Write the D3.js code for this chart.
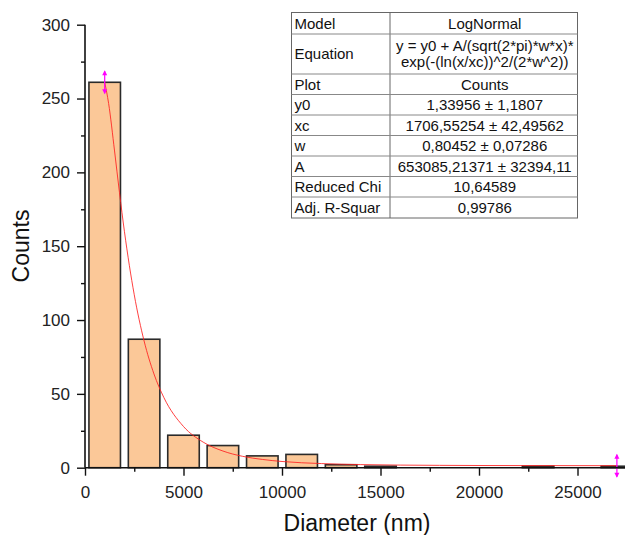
<!DOCTYPE html>
<html>
<head>
<meta charset="utf-8">
<script src="https://cdn.jsdelivr.net/npm/d3@7"></script>
<style>
  html, body { margin: 0; padding: 0; background: #fff; }
  svg { display: block; font-family: "Liberation Sans", Arial, sans-serif; }
</style>
</head>
<body>
<svg id="chart" width="625" height="535"></svg>
<script>
// ---- data ----
const binCenters = [1000, 3000, 5000, 7000, 9000, 11000, 13000, 15000, 17000, 19000, 21000, 23000, 25000, 27000];
const counts     = [261, 87, 22, 15, 8, 9, 2, 1, 0, 0, 0, 1, 0, 1];
const binWidth = 2000;

// fitted LogNormal curve
const fitX = [1000, 1200, 1500, 1750, 2000, 2500, 3000, 3500, 4000, 5000, 6000, 7000, 8000, 9000, 10000, 12000, 14000, 16000, 18000, 20000, 23000, 27000];
const fitY = [261.1, 246.6, 214.5, 186.3, 160.1, 117.1, 85.8, 63.5, 47.6, 27.9, 17.3, 11.3, 7.7, 5.6, 4.2, 2.8, 2.1, 1.76, 1.59, 1.49, 1.42, 1.37];

const xTicks = [0, 5000, 10000, 15000, 20000, 25000];
const xMinorTicks = [2500, 7500, 12500, 17500, 22500];
const yTicks = [0, 50, 100, 150, 200, 250, 300];
const yMinorTicks = [25, 75, 125, 175, 225, 275];

const tableRows = [
  ["Model", ["LogNormal"]],
  ["Equation", ["y = y0 + A/(sqrt(2*pi)*w*x)*", "exp(-(ln(x/xc))^2/(2*w^2))"]],
  ["Plot", ["Counts"]],
  ["y0", ["1,33956 \u00b1 1,1807"]],
  ["xc", ["1706,55254 \u00b1 42,49562"]],
  ["w", ["0,80452 \u00b1 0,07286"]],
  ["A", ["653085,21371 \u00b1 32394,11"]],
  ["Reduced Chi", ["10,64589"]],
  ["Adj. R-Squar", ["0,99786"]]
];

// ---- layout ----
const svg = d3.select("#chart");
const x = d3.scaleLinear().domain([0, 27411]).range([85, 625]);
const y = d3.scaleLinear().domain([0, 300]).range([467.7, 24.7]);

// bars
svg.append("g").selectAll("rect")
  .data(binCenters.map((c, i) => ({c, v: counts[i]})).filter(d => d.v > 0))
  .join("rect")
  .attr("x", d => x(d.c - binWidth * 0.4))
  .attr("width", d => x(d.c + binWidth * 0.4) - x(d.c - binWidth * 0.4))
  .attr("y", d => y(d.v))
  .attr("height", d => y(0) - y(d.v))
  .attr("fill", "#FBC898")
  .attr("stroke", "#2a2a2a")
  .attr("stroke-width", 1.6);

// fit curve
const line = d3.line().x(d => x(d[0])).y(d => y(d[1])).curve(d3.curveMonotoneX);
svg.append("path")
  .attr("d", line(fitX.map((v, i) => [v, fitY[i]])))
  .attr("fill", "none")
  .attr("stroke", "#ff2020")
  .attr("stroke-opacity", 0.85)
  .attr("stroke-width", 1);

// magenta range markers at curve ends
const markerPts = [[fitX[0], fitY[0]], [fitX[fitX.length - 1], fitY[fitY.length - 1]]];
const mk = svg.append("g");
markerPts.forEach(p => {
  const cx = x(p[0]), cy = y(p[1]);
  mk.append("line").attr("x1", cx).attr("x2", cx).attr("y1", cy - 11).attr("y2", cy + 11)
    .attr("stroke", "#ff00ff").attr("stroke-width", 1.2);
  mk.append("path").attr("d", `M${cx - 2.5},${cy - 7}L${cx},${cy - 12}L${cx + 2.5},${cy - 7}Z`).attr("fill", "#ff00ff");
  mk.append("path").attr("d", `M${cx - 2.5},${cy + 7}L${cx},${cy + 12}L${cx + 2.5},${cy + 7}Z`).attr("fill", "#ff00ff");
});

// x axis
const xAxis = svg.append("g").attr("transform", `translate(0,${y(0)})`)
  .call(d3.axisBottom(x).tickValues(xTicks).tickSize(8).tickPadding(10).tickFormat(d3.format("d")));
svg.append("g").attr("transform", `translate(0,${y(0)})`)
  .call(d3.axisBottom(x).tickValues(xMinorTicks).tickSize(4).tickFormat(""))
  .call(g => g.select(".domain").remove());

// y axis
const yAxis = svg.append("g").attr("transform", `translate(${x(0)},0)`)
  .call(d3.axisLeft(y).tickValues(yTicks).tickSize(8).tickPadding(7).tickFormat(d3.format("d")));
svg.append("g").attr("transform", `translate(${x(0)},0)`)
  .call(d3.axisLeft(y).tickValues(yMinorTicks).tickSize(4).tickFormat(""))
  .call(g => g.select(".domain").remove());

svg.selectAll(".domain").attr("stroke", "#111").attr("stroke-width", 1.6);
svg.selectAll(".tick line").attr("stroke", "#111").attr("stroke-width", 1.4);
svg.selectAll(".tick text").attr("font-size", 17).attr("fill", "#222")
  .attr("font-family", "'Liberation Sans', Arial, sans-serif");
xAxis.select(".domain").attr("d", `M${x(0)},0H${x.range()[1]}`);
yAxis.select(".domain").attr("d", `M0,${y(0)}V${y(300)}`);

// axis titles
svg.append("text").attr("x", (x(0) + 625) / 2 + 2).attr("y", 531)
  .attr("text-anchor", "middle").attr("font-size", 23).attr("fill", "#111")
  .text("Diameter (nm)");
svg.append("text").attr("transform", `translate(29,246) rotate(-90)`)
  .attr("text-anchor", "middle").attr("font-size", 23).attr("fill", "#111")
  .text("Counts");

// stats table
const tLeft = 291.5, tRight = 577.5, tDiv = 390, tTop = 12.5;
const rowH = [21.5, 40, 20.5, 20.5, 20.5, 20.5, 20.5, 20.5, 21];
const tg = svg.append("g");
let yy = tTop;
const rowTops = [];
rowH.forEach(h => { rowTops.push(yy); yy += h; });
const tBottom = yy;
tg.append("rect").attr("x", tLeft).attr("y", tTop).attr("width", tRight - tLeft).attr("height", tBottom - tTop)
  .attr("fill", "#fff").attr("stroke", "#666").attr("stroke-width", 1);
tg.append("line").attr("x1", tDiv).attr("x2", tDiv).attr("y1", tTop).attr("y2", tBottom)
  .attr("stroke", "#666").attr("stroke-width", 1);
rowTops.slice(1).forEach(t => {
  tg.append("line").attr("x1", tLeft).attr("x2", tRight).attr("y1", t).attr("y2", t)
    .attr("stroke", "#888").attr("stroke-width", 1);
});
tableRows.forEach((r, i) => {
  const top = rowTops[i], h = rowH[i];
  tg.append("text").attr("x", tLeft + 3).attr("y", top + h / 2 + 5.3)
    .attr("font-size", 15).attr("fill", "#111").text(r[0]);
  const lines = r[1];
  lines.forEach((s, j) => {
    const cy = top + h / 2 + (j - (lines.length - 1) / 2) * 16 + 5.3;
    tg.append("text").attr("x", (tDiv + tRight) / 2 + 1).attr("y", cy)
      .attr("text-anchor", "middle").attr("font-size", 15).attr("fill", "#111").text(s);
  });
});
</script>
</body>
</html>
